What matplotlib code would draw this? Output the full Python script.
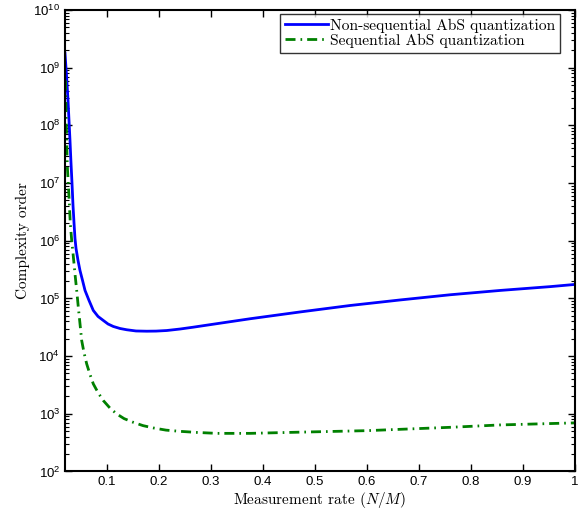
import numpy as np
import matplotlib
matplotlib.use("Agg")
import matplotlib.pyplot as plt
from matplotlib.ticker import FixedLocator, LogLocator, FuncFormatter, NullFormatter

plt.rcParams['mathtext.fontset'] = 'cm'

nonseq_rate = [0.020, 0.0229, 0.0258, 0.0277, 0.0296, 0.0315, 0.0335, 0.0354, 0.0373,
               0.0392, 0.0412, 0.0450, 0.0488, 0.0537, 0.0585, 0.0662, 0.0744, 0.0835,
               0.0937, 0.1027, 0.1129, 0.1258, 0.1387, 0.1565, 0.1771, 0.1950, 0.2156,
               0.2412, 0.2667, 0.2912, 0.3181, 0.3758, 0.4719, 0.5681, 0.6642, 0.7604,
               0.8565, 0.9527, 1.000]
nonseq_log = [9.253, 8.872, 8.438, 8.090, 7.743, 7.361, 6.997, 6.615, 6.319,
              6.042, 5.868, 5.660, 5.486, 5.313, 5.139, 4.965, 4.792, 4.688,
              4.618, 4.557, 4.514, 4.479, 4.457, 4.436, 4.432, 4.434, 4.444,
              4.470, 4.502, 4.535, 4.571, 4.648, 4.766, 4.878, 4.974, 5.064,
              5.139, 5.205, 5.243]

# sequential AbS
seq_rate = [0.021, 0.0219, 0.0244, 0.0263, 0.0283, 0.0302, 0.0329, 0.0360, 0.0392,
            0.0425, 0.0456, 0.0488, 0.0521, 0.0565, 0.0617, 0.0681, 0.0744, 0.0835,
            0.0937, 0.1065, 0.1194, 0.1335, 0.1513, 0.1700, 0.1898, 0.2142, 0.2412,
            0.2738, 0.3117, 0.3758, 0.4719, 0.6002, 0.7604, 0.8558, 0.9969, 1.000]
seq_log = [8.78, 8.26, 7.31, 7.00, 6.65, 6.30, 6.007, 5.73, 5.429,
           5.139, 4.849, 4.566, 4.271, 4.063, 3.866, 3.681, 3.519, 3.368,
           3.229, 3.099, 2.998, 2.917, 2.852, 2.795, 2.755, 2.717, 2.696,
           2.677, 2.661, 2.661, 2.682, 2.708, 2.766, 2.807, 2.842, 2.844]

labels = ['Non-sequential AbS quantization', 'Sequential AbS quantization']
xticks = [0.1, 0.2, 0.3, 0.4, 0.5, 0.6, 0.7, 0.8, 0.9, 1.0]
xticklabels = ['0.1', '0.2', '0.3', '0.4', '0.5', '0.6', '0.7', '0.8', '0.9', '1']

fig = plt.figure(figsize=(5.87, 5.14), dpi=100)
ax = fig.add_axes([0.1107, 0.0827, 0.8689, 0.8978])

ax.semilogy(nonseq_rate, 10 ** np.array(nonseq_log), color='#0000ff', lw=2.0,
            label=labels[0])
ax.semilogy(seq_rate, 10 ** np.array(seq_log), color='#008000', lw=2.0,
            linestyle=(0, (3.6, 1.8, 0.6, 1.8)), label=labels[1])

ax.set_xlim(0.02, 1)
ax.set_ylim(1e2, 1e10)

ax.xaxis.set_major_locator(FixedLocator(xticks))
ax.set_xticklabels(xticklabels)
ax.yaxis.set_major_locator(LogLocator(base=10, numticks=20))
ax.yaxis.set_minor_locator(LogLocator(base=10, subs=np.arange(2, 10), numticks=20))
ax.yaxis.set_minor_formatter(NullFormatter())
ax.yaxis.set_major_formatter(FuncFormatter(
    lambda v, p: r'$\mathregular{10^{%d}}$' % round(np.log10(v))))

ax.tick_params(which='both', direction='in', top=True, right=True)
ax.tick_params(which='major', length=5, width=1.0, labelsize=9.5)
ax.tick_params(which='minor', length=3, width=0.8)
for lab in ax.get_xticklabels() + ax.get_yticklabels():
    lab.set_fontfamily('Liberation Sans')
for s in ax.spines.values():
    s.set_linewidth(1.5)

ax.set_xlabel('Measurement rate $(N/M)$', fontfamily='cmr10', fontsize=11, labelpad=1)
ax.set_ylabel('Complexity order', fontfamily='cmr10', fontsize=11, labelpad=2)

leg = ax.legend(loc='upper right', bbox_to_anchor=(0.9706, 0.9913),
                prop={'family': 'cmr10', 'size': 11.2},
                frameon=True, fancybox=False, handlelength=2.75,
                borderpad=0.3, labelspacing=0.05, handletextpad=0.15,
                borderaxespad=0)
leg.get_frame().set_edgecolor('black')
leg.get_frame().set_linewidth(1.0)

fig.savefig('out.png', dpi=100, facecolor='white')
